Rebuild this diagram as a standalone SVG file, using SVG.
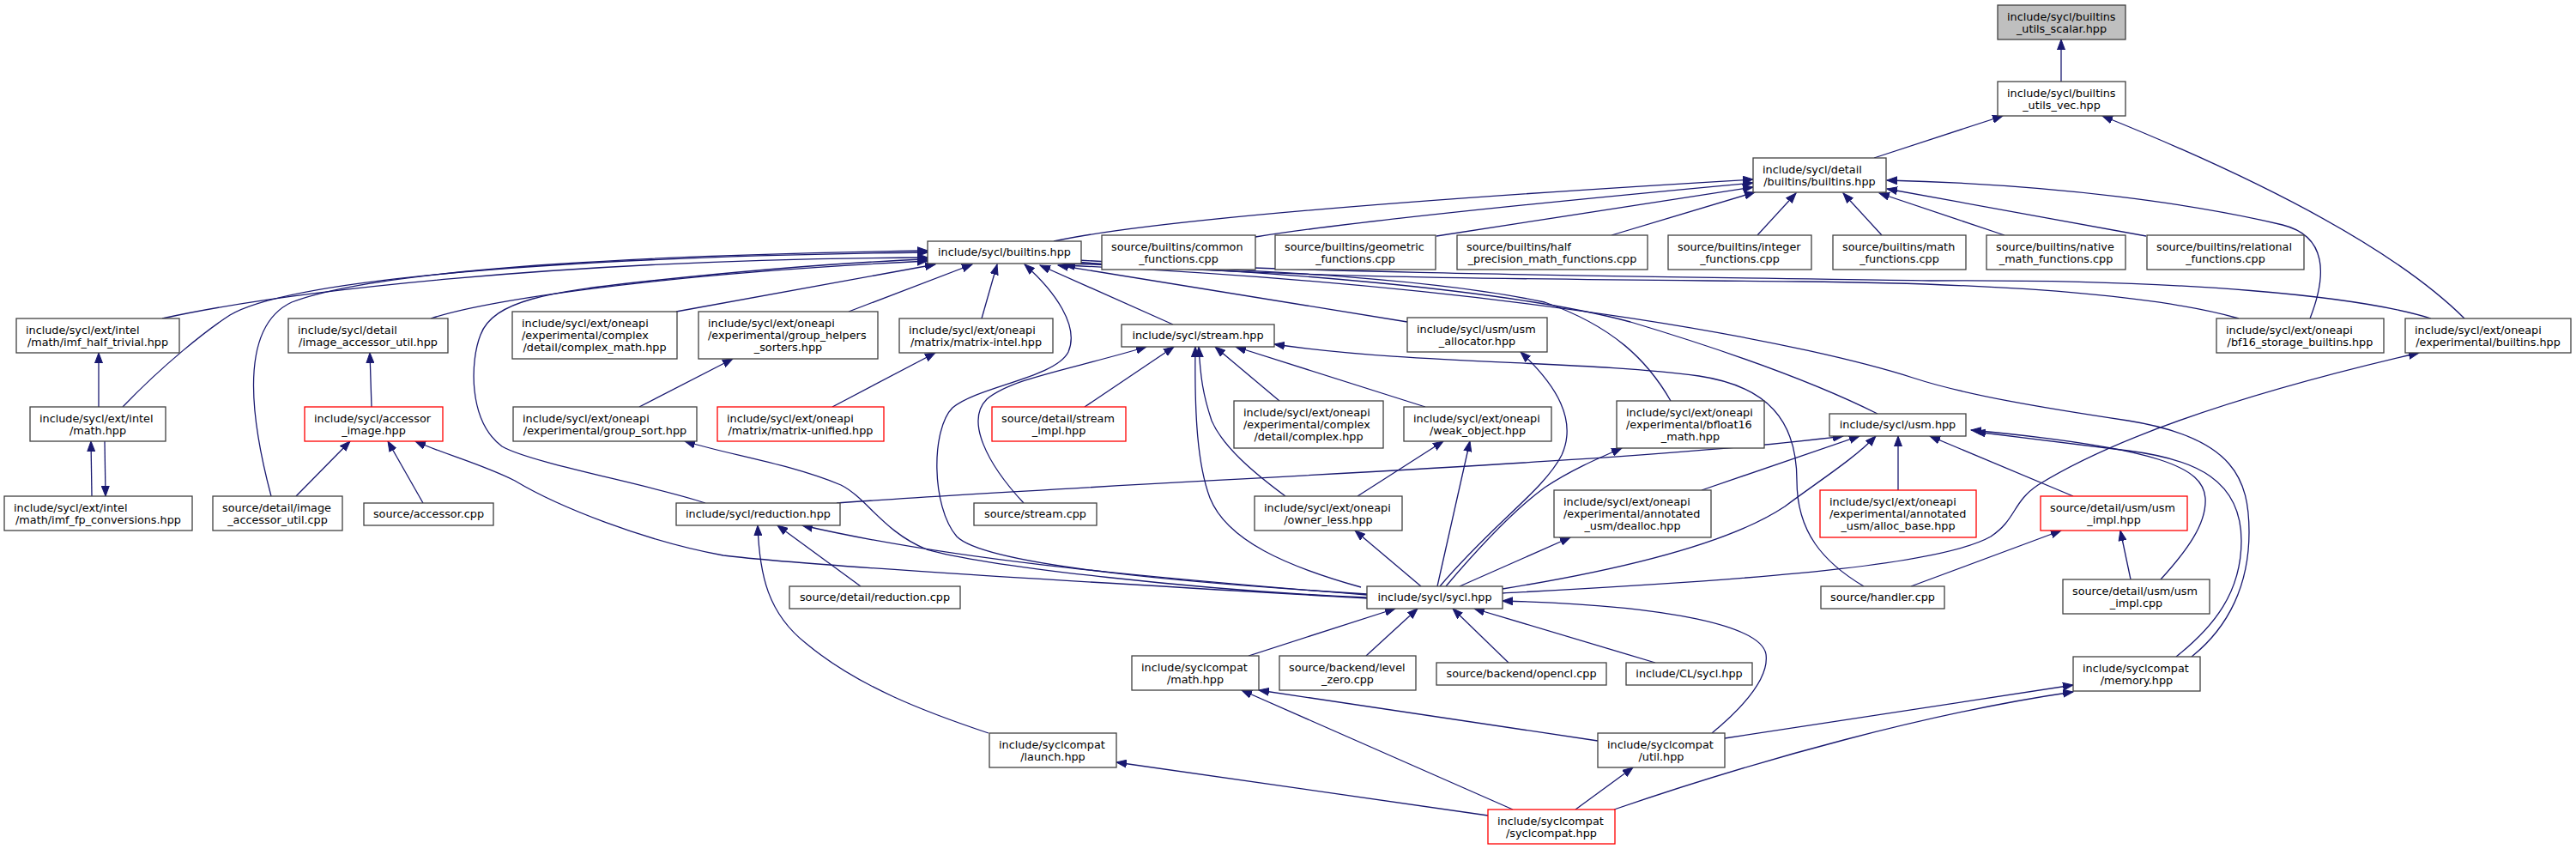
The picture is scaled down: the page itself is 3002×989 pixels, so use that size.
<svg xmlns="http://www.w3.org/2000/svg" width="3002" height="989" viewBox="0 0 3002 989">
<style>
.n rect{fill:#fff;stroke:#404040;stroke-width:1.3}
.r rect{stroke:#ff0000}
.root rect{fill:#bfbfbf}
text{font-family:"DejaVu Sans","Liberation Sans",sans-serif;font-size:12.8px;fill:#000}
.c{text-anchor:middle}
.e path{fill:none;stroke:#191970;stroke-width:1.3;marker-end:url(#a)}
</style>
<defs>
<marker id="a" markerUnits="userSpaceOnUse" markerWidth="13" markerHeight="10" refX="12" refY="5" orient="auto"><path d="M0,0.5 L12,5 L0,9.5 z" fill="#191970" stroke="#191970" stroke-width="1"/></marker>
</defs>
<rect width="3002" height="989" fill="#fff"/>
<g id="edges" class="e">
<path d="M2402,95 L2402,46"/>
<path d="M2184,184 L2334,135"/>
<path d="M2872,371 Q2760,260 2450,135"/>
<path d="M1228,281 Q1380,248 2043,209"/>
<path d="M1463,276 Q1600,254 2043,213"/>
<path d="M1674,275 L2043,218"/>
<path d="M1878,274 L2045,224"/>
<path d="M2048,274 L2093,225"/>
<path d="M2193,274 L2148,225"/>
<path d="M2336,274 L2190,225"/>
<path d="M2501,275 L2199,220"/>
<path d="M2692,371 C2712,320 2712,275 2660,262 C2560,238 2400,215 2199,210"/>
<path d="M189,371 C330,340 650,302 1081,300"/>
<path d="M143,474 C190,425 240,385 268,367 C330,330 600,300 1081,294"/>
<path d="M316,578 C290,480 280,380 340,352 C450,310 800,296 1081,292"/>
<path d="M502,371 C560,352 750,320 1081,304"/>
<path d="M822,586 C760,565 620,540 585,520 C545,490 548,420 560,390 C575,350 640,340 750,328 C900,312 1000,305 1081,302"/>
<path d="M788,363 L1090,308"/>
<path d="M989,363 L1133,308"/>
<path d="M1144,371 L1162,308"/>
<path d="M1593,692 C1400,680 1150,660 1115,625 C1085,590 1085,500 1110,475 C1140,450 1230,440 1245,410 C1258,380 1230,340 1194,308"/>
<path d="M1367,378 L1212,309"/>
<path d="M1640,375 L1233,309"/>
<path d="M1947,467 C1920,420 1880,380 1800,352 C1650,320 1400,312 1238,306"/>
<path d="M2188,482 C2140,458 2050,420 1900,375 C1750,335 1450,313 1241,307"/>
<path d="M2609,371 C2500,340 2300,330 2100,328 C1800,325 1500,325 1240,304"/>
<path d="M2833,371 C2750,345 2550,325 2250,327 C1900,322 1500,318 1240,302"/>
<path d="M2554,765 C2598,730 2621,680 2621,620 C2621,560 2605,510 2480,490 C2380,475 2290,460 2229,440 C2120,405 1800,335 1240,309"/>
<path d="M2536,765 C2580,730 2612,690 2612,630 C2612,560 2560,535 2480,525 C2400,515 2340,508 2302,503"/>
<path d="M2518,675 C2548,642 2572,610 2570,580 C2567,545 2520,522 2297,501"/>
<path d="M1751,686 C1900,662 2020,630 2080,590 C2120,560 2160,535 2186,508"/>
<path d="M1751,691 C1950,680 2250,665 2320,625 C2350,605 2345,585 2375,565 C2480,500 2650,450 2819,411"/>
<path d="M975,586 C1300,562 1900,540 2148,508"/>
<path d="M1983,571 L2167,508"/>
<path d="M2212,571 L2212,508"/>
<path d="M2416,578 L2249,508"/>
<path d="M2227,683 L2402,618"/>
<path d="M2483,675 L2471,618"/>
<path d="M2172,683 C2125,655 2094,620 2094,560 C2094,490 2060,450 1980,438 C1850,420 1650,425 1485,401"/>
<path d="M1264,474 L1368,404"/>
<path d="M1193,586 C1150,540 1125,490 1150,465 C1180,440 1250,430 1336,404"/>
<path d="M1586,684 C1500,660 1430,630 1410,580 C1395,540 1392,480 1393,404"/>
<path d="M1498,578 C1460,550 1425,520 1412,490 C1402,460 1399,440 1397,404"/>
<path d="M1491,467 L1416,404"/>
<path d="M1661,474 L1440,404"/>
<path d="M1582,578 L1682,514"/>
<path d="M1675,683 L1713,514"/>
<path d="M1656,683 L1579,618"/>
<path d="M1685,683 C1730,630 1770,590 1800,568 C1830,548 1860,535 1890,522"/>
<path d="M1701,683 L1830,626"/>
<path d="M1678,683 C1740,610 1800,570 1820,530 C1838,490 1815,450 1772,410"/>
<path d="M1593,693 C1300,670 1100,650 935,612"/>
<path d="M1593,696 C1400,688 1150,660 1080,640 C1030,620 1010,580 980,565 C920,540 850,530 798,514"/>
<path d="M1593,697 C1300,680 950,660 843,647 C750,630 650,590 600,560 C560,540 520,530 484,514"/>
<path d="M1455,764 L1626,709"/>
<path d="M1592,764 L1652,709"/>
<path d="M1758,772 L1693,709"/>
<path d="M1929,772 L1718,709"/>
<path d="M1995,854 C2030,825 2062,790 2058,762 C2052,730 1950,705 1751,700"/>
<path d="M1003,683 L906,612"/>
<path d="M1152,854 C1080,830 1000,800 940,750 C895,715 885,670 883,612"/>
<path d="M1763,943 L1447,804"/>
<path d="M1862,863 L1467,804"/>
<path d="M1734,950 L1301,888"/>
<path d="M1836,943 L1903,894"/>
<path d="M2010,860 L2416,798"/>
<path d="M1881,943 C2050,885 2250,830 2416,806"/>
<path d="M433,474 L431,411"/>
<path d="M345,578 L408,514"/>
<path d="M493,586 L452,514"/>
<path d="M115,474 L115,411"/>
<path d="M107,578 L106,514"/>
<path d="M122,514 L123,578"/>
<path d="M745,474 L854,418"/>
<path d="M970,474 L1090,411"/>
</g>
<g id="n1" class="n root"><rect x="2328" y="6" width="149" height="40"/><text x="2339" y="23.5">include/sycl/builtins</text><text class="c" x="2402.5" y="37.5">_utils_scalar.hpp</text></g>
<g id="n2" class="n"><rect x="2328" y="95" width="149" height="40"/><text x="2339" y="112.5">include/sycl/builtins</text><text class="c" x="2402.5" y="126.5">_utils_vec.hpp</text></g>
<g id="n3" class="n"><rect x="2043" y="184" width="155" height="40"/><text x="2054" y="201.5">include/sycl/detail</text><text class="c" x="2120.5" y="215.5">/builtins/builtins.hpp</text></g>
<g id="n4" class="n"><rect x="1081" y="281" width="179" height="26"/><text class="c" x="1170.5" y="298">include/sycl/builtins.hpp</text></g>
<g id="n5" class="n"><rect x="1284" y="274" width="179" height="40"/><text x="1295" y="291.5">source/builtins/common</text><text class="c" x="1373.5" y="305.5">_functions.cpp</text></g>
<g id="n6" class="n"><rect x="1486" y="274" width="187" height="40"/><text x="1497" y="291.5">source/builtins/geometric</text><text class="c" x="1579.5" y="305.5">_functions.cpp</text></g>
<g id="n7" class="n"><rect x="1698" y="274" width="222" height="40"/><text x="1709" y="291.5">source/builtins/half</text><text class="c" x="1809" y="305.5">_precision_math_functions.cpp</text></g>
<g id="n8" class="n"><rect x="1944" y="274" width="167" height="40"/><text x="1955" y="291.5">source/builtins/integer</text><text class="c" x="2027.5" y="305.5">_functions.cpp</text></g>
<g id="n9" class="n"><rect x="2136" y="274" width="155" height="40"/><text x="2147" y="291.5">source/builtins/math</text><text class="c" x="2213.5" y="305.5">_functions.cpp</text></g>
<g id="n10" class="n"><rect x="2315" y="274" width="162" height="40"/><text x="2326" y="291.5">source/builtins/native</text><text class="c" x="2396" y="305.5">_math_functions.cpp</text></g>
<g id="n11" class="n"><rect x="2502" y="274" width="183" height="40"/><text x="2513" y="291.5">source/builtins/relational</text><text class="c" x="2593.5" y="305.5">_functions.cpp</text></g>
<g id="n12" class="n"><rect x="19" y="371" width="190" height="40"/><text x="30" y="388.5">include/sycl/ext/intel</text><text class="c" x="114" y="402.5">/math/imf_half_trivial.hpp</text></g>
<g id="n13" class="n"><rect x="336" y="371" width="186" height="40"/><text x="347" y="388.5">include/sycl/detail</text><text class="c" x="429" y="402.5">/image_accessor_util.hpp</text></g>
<g id="n14" class="n"><rect x="597" y="363" width="192" height="55"/><text x="608" y="381">include/sycl/ext/oneapi</text><text x="608" y="395">/experimental/complex</text><text class="c" x="693" y="409">/detail/complex_math.hpp</text></g>
<g id="n15" class="n"><rect x="814" y="363" width="209" height="55"/><text x="825" y="381">include/sycl/ext/oneapi</text><text x="825" y="395">/experimental/group_helpers</text><text class="c" x="918.5" y="409">_sorters.hpp</text></g>
<g id="n16" class="n"><rect x="1048" y="371" width="179" height="40"/><text x="1059" y="388.5">include/sycl/ext/oneapi</text><text class="c" x="1137.5" y="402.5">/matrix/matrix-intel.hpp</text></g>
<g id="n17" class="n"><rect x="1307" y="378" width="178" height="26"/><text class="c" x="1396" y="395">include/sycl/stream.hpp</text></g>
<g id="n18" class="n"><rect x="1640" y="370" width="163" height="40"/><text x="1651" y="387.5">include/sycl/usm/usm</text><text class="c" x="1721.5" y="401.5">_allocator.hpp</text></g>
<g id="n19" class="n"><rect x="2583" y="371" width="195" height="40"/><text x="2594" y="388.5">include/sycl/ext/oneapi</text><text class="c" x="2680.5" y="402.5">/bf16_storage_builtins.hpp</text></g>
<g id="n20" class="n"><rect x="2803" y="371" width="193" height="40"/><text x="2814" y="388.5">include/sycl/ext/oneapi</text><text class="c" x="2899.5" y="402.5">/experimental/builtins.hpp</text></g>
<g id="n21" class="n"><rect x="35" y="474" width="158" height="40"/><text x="46" y="491.5">include/sycl/ext/intel</text><text class="c" x="114" y="505.5">/math.hpp</text></g>
<g id="n22" class="n r"><rect x="355" y="474" width="161" height="40"/><text x="366" y="491.5">include/sycl/accessor</text><text class="c" x="435.5" y="505.5">_image.hpp</text></g>
<g id="n23" class="n"><rect x="598" y="474" width="214" height="40"/><text x="609" y="491.5">include/sycl/ext/oneapi</text><text class="c" x="705" y="505.5">/experimental/group_sort.hpp</text></g>
<g id="n24" class="n r"><rect x="836" y="474" width="194" height="40"/><text x="847" y="491.5">include/sycl/ext/oneapi</text><text class="c" x="933" y="505.5">/matrix/matrix-unified.hpp</text></g>
<g id="n25" class="n r"><rect x="1156" y="474" width="156" height="40"/><text x="1167" y="491.5">source/detail/stream</text><text class="c" x="1234" y="505.5">_impl.hpp</text></g>
<g id="n26" class="n"><rect x="1438" y="467" width="174" height="55"/><text x="1449" y="485">include/sycl/ext/oneapi</text><text x="1449" y="499">/experimental/complex</text><text class="c" x="1525" y="513">/detail/complex.hpp</text></g>
<g id="n27" class="n"><rect x="1636" y="474" width="172" height="40"/><text x="1647" y="491.5">include/sycl/ext/oneapi</text><text class="c" x="1722" y="505.5">/weak_object.hpp</text></g>
<g id="n28" class="n"><rect x="1884" y="467" width="172" height="55"/><text x="1895" y="485">include/sycl/ext/oneapi</text><text x="1895" y="499">/experimental/bfloat16</text><text class="c" x="1970" y="513">_math.hpp</text></g>
<g id="n29" class="n"><rect x="2132" y="482" width="159" height="26"/><text class="c" x="2211.5" y="499">include/sycl/usm.hpp</text></g>
<g id="n30" class="n"><rect x="5" y="578" width="219" height="40"/><text x="16" y="595.5">include/sycl/ext/intel</text><text class="c" x="114.5" y="609.5">/math/imf_fp_conversions.hpp</text></g>
<g id="n31" class="n"><rect x="248" y="578" width="151" height="40"/><text x="259" y="595.5">source/detail/image</text><text class="c" x="323.5" y="609.5">_accessor_util.cpp</text></g>
<g id="n32" class="n"><rect x="424" y="586" width="151" height="26"/><text class="c" x="499.5" y="603">source/accessor.cpp</text></g>
<g id="n33" class="n"><rect x="788" y="586" width="191" height="26"/><text class="c" x="883.5" y="603">include/sycl/reduction.hpp</text></g>
<g id="n34" class="n"><rect x="1135" y="586" width="143" height="26"/><text class="c" x="1206.5" y="603">source/stream.cpp</text></g>
<g id="n35" class="n"><rect x="1462" y="578" width="172" height="40"/><text x="1473" y="595.5">include/sycl/ext/oneapi</text><text class="c" x="1548" y="609.5">/owner_less.hpp</text></g>
<g id="n36" class="n"><rect x="1811" y="571" width="183" height="55"/><text x="1822" y="589">include/sycl/ext/oneapi</text><text x="1822" y="603">/experimental/annotated</text><text class="c" x="1902.5" y="617">_usm/dealloc.hpp</text></g>
<g id="n37" class="n r"><rect x="2121" y="571" width="182" height="55"/><text x="2132" y="589">include/sycl/ext/oneapi</text><text x="2132" y="603">/experimental/annotated</text><text class="c" x="2212" y="617">_usm/alloc_base.hpp</text></g>
<g id="n38" class="n r"><rect x="2378" y="578" width="171" height="40"/><text x="2389" y="595.5">source/detail/usm/usm</text><text class="c" x="2463.5" y="609.5">_impl.hpp</text></g>
<g id="n39" class="n"><rect x="920" y="683" width="199" height="26"/><text class="c" x="1019.5" y="700">source/detail/reduction.cpp</text></g>
<g id="n40" class="n"><rect x="1593" y="683" width="158" height="26"/><text class="c" x="1672" y="700">include/sycl/sycl.hpp</text></g>
<g id="n41" class="n"><rect x="2122" y="683" width="144" height="26"/><text class="c" x="2194" y="700">source/handler.cpp</text></g>
<g id="n42" class="n"><rect x="2404" y="675" width="171" height="40"/><text x="2415" y="692.5">source/detail/usm/usm</text><text class="c" x="2489.5" y="706.5">_impl.cpp</text></g>
<g id="n43" class="n"><rect x="1319" y="764" width="148" height="40"/><text x="1330" y="781.5">include/syclcompat</text><text class="c" x="1393" y="795.5">/math.hpp</text></g>
<g id="n44" class="n"><rect x="1491" y="764" width="159" height="40"/><text x="1502" y="781.5">source/backend/level</text><text class="c" x="1570.5" y="795.5">_zero.cpp</text></g>
<g id="n45" class="n"><rect x="1674" y="772" width="198" height="26"/><text class="c" x="1773" y="789">source/backend/opencl.cpp</text></g>
<g id="n46" class="n"><rect x="1895" y="772" width="147" height="26"/><text class="c" x="1968.5" y="789">include/CL/sycl.hpp</text></g>
<g id="n47" class="n"><rect x="2416" y="765" width="148" height="40"/><text x="2427" y="782.5">include/syclcompat</text><text class="c" x="2490" y="796.5">/memory.hpp</text></g>
<g id="n48" class="n"><rect x="1153" y="854" width="148" height="40"/><text x="1164" y="871.5">include/syclcompat</text><text class="c" x="1227" y="885.5">/launch.hpp</text></g>
<g id="n49" class="n"><rect x="1862" y="854" width="148" height="40"/><text x="1873" y="871.5">include/syclcompat</text><text class="c" x="1936" y="885.5">/util.hpp</text></g>
<g id="n50" class="n r"><rect x="1734" y="943" width="148" height="40"/><text x="1745" y="960.5">include/syclcompat</text><text class="c" x="1808" y="974.5">/syclcompat.hpp</text></g>
</svg>
